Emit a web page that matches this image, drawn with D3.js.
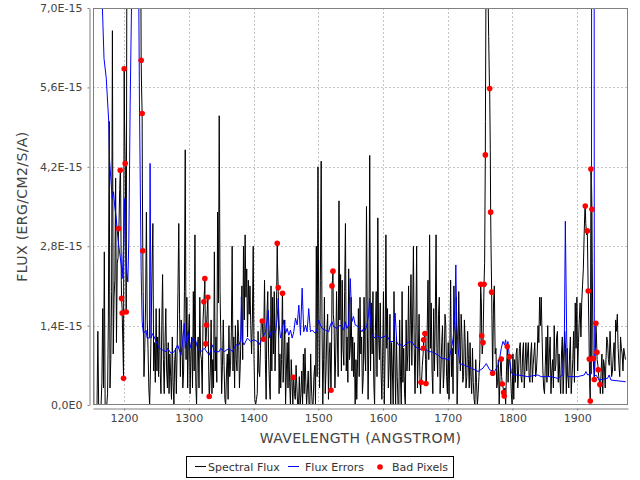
<!DOCTYPE html>
<html>
<head>
<meta charset="utf-8">
<script src="https://cdn.jsdelivr.net/npm/d3@7"></script>
<style>
  html, body { margin: 0; padding: 0; background: #fff; }
  svg { display: block; }
  text { font-family: "DejaVu Sans", sans-serif; }
</style>
</head>
<body>
<svg id="chart" width="640" height="480"></svg>
<script>
// ---------------- data (flux in units of 1E-15 erg/cm2/s/A) ----------------
const waveStart = 1152;   // first sample wavelength (Angstrom)
const waveStep = 2.5;     // sampling step (Angstrom)

// samples at waveStart + i*waveStep
const flux = [
  8.0, 0, 0, 1.3, 0, 0, 1.7, 2.7, 0, 0.2,
  5.0, 0.8, 6.6, 1.9, 4.0, 2.5, 3.1, 4.1, 1.7, 3.0,
  4.2, 9, 14, 20, 30, 40, 30, 20, 14, 10,
  5.6, 2.0, 1.0, 3.4, 1.0, 0, 1.5, 3.2, 1.1, 1.7,
  1.2, 1.7, 0.2, 2.3, 0.2, 1.7, 0.3, 0.2, 0.5, 1.2,
  0, 1.0, 1.0, 3.2, 0.5, 1.2,
  0.6, 4.5, 1.9, 1.2, 0.2, 1.2, 2.0, 3.0, 0.0, 1.2,
  1.9, 0.8, 1.5, 2.1, 1.2, 1.9, 0.2, 1.5, 0.8, 2.7,
  1.2, 3.4, 5.1, 1.2, 0.7, 0.7, 0.0, 0.9, 1.4, 0.7,
  2.8, 1.2, 1.4, 0.6, 1.2, 0.7, 2.1, 2.8, 3.0, 2.4,
  2.2, 2.1, 0.9, 2.8, 0.1, 0.1, 1.3, 0.5, 1.5, 1.2,
  2.2, 0.1, 2.0, 0.4, 2.1,
  1.9, 2.0, 1.3, 2.5, 0.2, 0.3, 1.9, 0.9, 0.0, 1.1,
  1.2, 0.0, 0.4, 0.5, 0.1, 0.3, 0.0, 0.0, 0.6, 0.9,
  1.0, 0.0, 0.6, 0.0, 0.3, 0.0, 0.7, 2.8, 4.2, 0.3,
  4.3, 0.0, 1.9, 0.6, 1.6, 0.9, 0.3, 2.2, 1.4, 0.9,
  1.2, 3.6, 2.3, 2.2, 0.7, 3.2, 1.2, 2.4, 1.0, 0.6,
  0.5, 0.0, 0.1, 1.7, 1.9,
  1.2, 0.5, 0.9, 3.5, 0.1, 4.4, 1.8, 2.0, 0.0, 2.0,
  3.3, 0.8, 0.6, 0.9, 0.0, 3.0, 1.7, 0.7, 0.0, 0.6,
  2.0, 0.0, 0.5, 0.0, 0.5, 2.0, 1.0, 0.0, 0.6, 2.1,
  1.4, 0.7, 2.8, 0.2, 2.8, 0.9, 0.5, 0.4, 0.9, 1.2,
  0.4, 2.2, 3.0, 1.8, 0.2, 0.6, 3.0, 0.5, 1.9, 0.6,
  1.4, 0.6, 1.4, 0.2, 0.1, 2.2,
  1.0, 2.1, 0.9, 0.0, 2.0, 0.6, 1.2, 0.5, 1.1, 0.5,
  0.8, 1.1, 0.2, 0.4, 0.0, 0.4, 0.2, 0.8, 1.8, 1.1,
  2.5, 8.5, 7.5, 5.6, 2.7, 0.6, 2.1, 1.0, 0.4, 0.0,
  0.8, 0.35, 0.18, 0.0, 1.0, 0.9, 0.6, 0.0, 0.1, 0.4,
  1.0, 0.6, 1.1, 0.4, 1.1, 0.7, 0.6, 1.1, 0.4, 1.1,
  0.7, 1.1, 0.6, 1.4, 1.9,
  1.9, 0.6, 0.2, 1.2, 1.4, 0.9, 0.2, 0.8, 1.4, 0.7,
  1.3, 0.9, 0.2, 1.2, 0.6, 1.0, 1.0, 0.3, 1.2, 0.5,
  1.3, 1.8, 1.9, 1.1, 1.8, 1.8, 2.4, 3.5, 3.0, 2.0,
  0.3, 4.0, 0.8, 0.6, 1.3, 0.7, 0.4, 0.6, 0.2, 0.7,
  0.8, 1.1, 0.7, 0.9, 0.6, 1.1, 1.5, 1.6, 0.7, 1.2,
  0.9, 1.0, 0.8
];

// samples half-way between the ones above (waveStart + waveStep/2 + i*waveStep)
const fluxMid = [
  0, 0, 0, 0, 0, 0.4, 0.3, 0, 0, 1.5,
  0.3, 2.0, 0.9, 2.2, 1.1, 2.6, 3.8, 2.2, 1.0, 5.0,
  1.7, 11, 17, 25, 35, 35, 25, 17, 12, 8,
  4.0, 0.5, 1.8, 1.5, 0.3, 0.6, 2.4, 0.6, 0.4, 0.6,
  0.5, 0.6, 1.4, 0.8, 1.1, 0.6, 1.1, 0.9, 0.1, 0.4,
  0.8, 0.2, 2.0, 1.6, 1.5, 0.3, 2.0, 0.8, 0.3, 1.6,
  0.9, 0.3, 0.6, 0.4, 1.0, 0.3, 0.9, 0.2, 1.8, 1.0,
  1.6, 0.6, 0.6, 0.2, 0.3, 0.6, 0.4, 1.8, 2.0, 0.2,
  1.5, 0.1, 0.6, 0.1, 0.5, 1.3, 0.6, 0.3, 0.8, 1.5,
  0.3, 1.3, 0.8, 1.5, 1.9, 1.2, 1.6, 1.4, 1.5, 0.8,
  0.0, 0.2, 0.6, 1.0, 1.5, 1.2, 0.8, 1.6, 0.9, 0.1,
  0.6, 0.9, 0.6, 2.0, 2.0, 0.9, 0.8, 0.4, 1.5, 0.6,
  0.3, 0.4, 0.8, 0.0, 0.2, 0.7, 0.0, 0.5, 0.2, 0.0,
  0.2, 0.4, 0.3, 0.0, 0.9, 0.0, 0.5, 0.0, 0.5, 1.6,
  2.2, 1.5, 0.8, 0.2, 1.3, 0.1, 1.1, 1.2, 1.6, 0.3,
  2.0, 0.5, 1.5, 0.6, 1.0, 2.0, 0.6, 0.4, 0.8, 1.9,
  1.2, 1.1, 0.8, 0.8, 0.5, 0.9, 0.2, 1.9, 0.6, 1.5,
  1.2, 0.6, 0.9, 0.4, 1.3, 0.5, 1.2, 1.8, 0.1, 2.0,
  0.9, 1.0, 0.3, 1.6, 1.1, 0.0, 0.9, 1.2, 0.0, 1.5,
  0.0, 0.4, 0.2, 1.5, 0.9, 0.6, 2.3, 1.5, 1.0, 1.3,
  0.3, 1.6, 0.2, 0.7, 1.2, 0.8, 1.3, 0.8, 1.0, 0.6,
  1.7, 1.5, 1.0, 1.6, 0.2, 1.1, 0.3, 1.6, 0.5, 1.1,
  0.9, 0.5, 0.2, 1.4, 1.9, 0.7, 1.2, 1.6, 0.4, 1.5,
  0.3, 1.3, 0.3, 0.5, 1.0, 0.1, 0.8, 0.0, 0.5, 2.0,
  0.9, 1.9, 5.0, 10, 6.5, 4.5, 1.6, 1.8, 0.9, 0.3,
  0.8, 0.5, 0.5, 0.3, 0.3, 0.6, 0.4, 0.8, 0.2, 0.9,
  0.8, 0.9, 0.3, 1.0, 0.5, 0.9, 0.3, 1.1, 0.9, 0.5,
  0.9, 0.4, 0.9, 0.5, 0.9, 1.1, 1.4, 1.2, 0.3, 0.7,
  0.4, 0.5, 1.2, 0.6, 0.3, 0.6, 1.2, 0.4, 0.5, 0.9,
  0.2, 1.3, 0.2, 0.5, 0.9, 0.2, 0.8, 0.4, 1.0, 0.6,
  1.5, 1.2, 2.1, 3.0, 3.2, 3.0, 1.2, 2.0, 2.5, 0.6,
  1.0, 0.8, 0.5, 0.2, 0.9, 0.8, 0.3, 1.2, 0.8, 1.3,
  0.5, 0.9, 0.6, 1.3, 1.0, 0.5, 1.0, 0.6, 0.9
];

const errWave = [
  1155, 1166.4, 1169, 1172.5, 1176.6, 1177.6, 1180.2, 1181.7, 1183.8, 1185.3,
  1187.9, 1190.5, 1193, 1195.6, 1197.1, 1199.2, 1200.7, 1201.7, 1203.3, 1205.8,
  1207.4, 1209.4, 1211.5, 1216, 1222.8, 1223.8, 1226.4, 1227.9, 1229.9, 1234,
  1235.6, 1239.2, 1240.2, 1241.7, 1244.3, 1249.4, 1254.6, 1259.7, 1264.8, 1267.4,
  1272.5, 1277.6, 1282.8, 1287.9, 1290.5, 1293, 1294.6, 1298.2, 1303.3, 1305.8,
  1311, 1313.5, 1318.7, 1323.8, 1331.5, 1336.6, 1339.2, 1346.9, 1349.4, 1354.6,
  1362.3, 1367.4, 1372.5, 1377.6, 1380.2, 1381.2, 1382.8, 1385.3, 1390.5, 1395.6,
  1400.7, 1405.8, 1408.4, 1413.5, 1418.7, 1422.8, 1424.8, 1427.4, 1434, 1436.6,
  1438.1, 1439.7, 1441.7, 1444.3, 1446.8, 1449.4, 1452, 1454.5, 1457.1, 1459.7,
  1462.2, 1464.8, 1467.4, 1470, 1472.5, 1475.1, 1477.6, 1480.2, 1482.7, 1485.3,
  1487.9, 1490.4, 1495.6, 1498.1, 1500.7, 1503.3, 1505.8, 1511, 1516.1, 1518.6,
  1521.2, 1523.8, 1528.9, 1534, 1539.2, 1541.7, 1544.3, 1546.8, 1549.4, 1552,
  1554.5, 1557.1, 1562.2, 1567.4, 1570, 1572.5, 1575.1, 1577.7, 1579.2, 1581.2,
  1582.8, 1587.9, 1590.5, 1595.6, 1600.7, 1605.9, 1611, 1616.1, 1618.7, 1621.2,
  1623.8, 1628.9, 1631.5, 1636.6, 1644.3, 1649.5, 1654.6, 1659.7, 1664.8, 1670,
  1675.1, 1680.2, 1685.4, 1690.5, 1695.6, 1700.7, 1703.3, 1705.8, 1708.4, 1711,
  1712.5, 1714, 1716, 1718.6, 1726.3, 1736.6, 1746.8, 1754.5, 1759.6, 1764.8,
  1772.5, 1777.6, 1780.2, 1782.7, 1785.3, 1787.9, 1789.4, 1791, 1793, 1795.5,
  1798.1, 1800.7, 1808.4, 1823.8, 1839.1, 1844.3, 1859.7, 1869.9, 1877.6, 1880.2,
  1881.7, 1883.8, 1885.3, 1900.7, 1911, 1913.5, 1916.1, 1922, 1924.3, 1926.5,
  1928.9, 1934, 1946.9, 1949.4, 1952, 1975
];
const errVal = [
  12, 7.05, 6.11, 5.76, 4.94, 4.32, 3.88, 3.64, 3.76, 3.53,
  3.29, 2.94, 2.7, 2.47, 2.23, 2.82, 3.64, 2.82, 2.47, 2.17,
  2.94, 5.29, 7.05, 40, 7.05, 5.29, 2.35, 1.47, 1.26, 1.32,
  1.18, 1.18, 4.26, 1.18, 1.26, 1.12, 1.0, 0.97, 0.94, 1.0,
  0.91, 0.94, 1.06, 0.88, 1.12, 1.44, 1.0, 1.29, 1.0, 1.18,
  1.12, 1.0, 0.94, 1.0, 0.88, 1.06, 0.94, 0.94, 1.0, 0.94,
  1.0, 0.94, 1.06, 1.06, 1.15, 1.91, 1.12, 1.06, 1.18, 1.12,
  1.15, 1.12, 1.06, 1.18, 1.29, 1.67, 1.18, 1.29, 1.29, 1.53,
  1.88, 1.41, 1.18, 1.29, 1.5, 1.26, 1.35, 1.23, 1.32, 1.18,
  1.29, 1.53, 1.41, 1.76, 1.23, 2.06, 1.29, 1.41, 1.29, 1.7,
  1.29, 1.32, 1.26, 1.35, 1.5, 1.41, 1.35, 1.32, 1.29, 1.41,
  1.47, 1.38, 1.35, 1.41, 1.32, 1.47, 1.35, 1.41, 2.23, 1.47,
  1.56, 1.41, 1.38, 1.29, 1.35, 1.32, 1.41, 1.59, 1.88, 1.41,
  1.23, 1.18, 1.23, 1.18, 1.2, 1.23, 1.12, 1.12, 1.62, 1.12,
  1.06, 1.06, 1.03, 1.09, 1.12, 1.03, 1.0, 0.97, 1.0, 0.94,
  0.94, 0.91, 0.88, 0.82, 0.82, 0.79, 0.88, 1.0, 1.18, 1.59,
  2.47, 1.41, 1.0, 0.73, 0.7, 0.65, 0.59, 0.65, 0.73, 0.62,
  0.59, 0.7, 0.82, 1.0, 1.12, 1.06, 1.15, 1.0, 1.12, 0.82,
  0.59, 0.53, 0.53, 0.5, 0.53, 0.5, 0.5, 0.47, 0.53, 1.18,
  3.24, 1.18, 0.5, 0.5, 0.53, 0.59, 0.53, 0.55, 60, 0.5,
  0.53, 0.44, 0.47, 0.53, 0.44, 0.41
];

const badWave = [
  1191.5, 1194.1, 1196.1, 1197.1, 1199.2, 1200.2, 1201.7, 1203.3, 1226.4, 1227.9,
  1228.9, 1323.3, 1324.8, 1326.4, 1327.4, 1329.4, 1331.5, 1413.5, 1415.6, 1436.6,
  1438.1, 1444.8, 1461.7, 1519.7, 1521.2, 1522.7, 1658.7, 1662.3, 1662.8, 1664.8,
  1666.4, 1750.9, 1752.5, 1754.5, 1756.1, 1758.1, 1764.8, 1766.3, 1767.9, 1769.4,
  1782.7, 1784.3, 1786.3, 1787.3, 1792, 1795.5, 1912.5, 1915.6, 1917.1, 1918.7,
  1920.2, 1921.2, 1922.8, 1924.8, 1926.4, 1928.9, 1930.5, 1932.5, 1935.1
];
const badFlux = [
  3.11, 4.14, 1.88, 1.62, 0.47, 5.93, 4.26, 1.64, 6.08, 5.14,
  2.72, 1.82, 2.23, 1.08, 1.41, 1.9, 0.15, 1.48, 1.16, 2.85,
  2.07, 1.97, 0.49, 0.26, 2.1, 2.36, 0.40, 1.0, 1.15, 1.26,
  0.38, 2.13, 1.22, 1.1, 2.13, 4.41, 5.58, 3.40, 1.99, 0.56,
  0.81, 0.37, 0.22, 0.16, 1.03, 0.85, 3.51, 3.07, 2.01, 0.81,
  0.07, 4.16, 3.45, 0.82, 0.45, 1.44, 0.93, 0.62, 0.36
];

const xTicks = [1200, 1300, 1400, 1500, 1600, 1700, 1800, 1900];
const yTicks = [0, 1.4, 2.8, 4.2, 5.6, 7.0];
const yTickLabels = ["0,0E0", "1,4E-15", "2,8E-15", "4,2E-15", "5,6E-15", "7,0E-15"];
const legendLabels = ["Spectral Flux", "Flux Errors", "Bad Pixels"];
const xTitle = "WAVELENGTH (ANGSTROM)";
const yTitle = "FLUX (ERG/CM2/S/A)";

// ---------------- layout ----------------
const plot = { left: 93, top: 8, right: 628, bottom: 405 };
const svg = d3.select("#chart");

const x = d3.scaleLinear().domain([1152, 1978.5]).range([plot.left, plot.right]);
const y = d3.scaleLinear().domain([0, 7]).range([plot.bottom, plot.top]);

svg.append("rect")
  .attr("x", plot.left).attr("y", plot.top)
  .attr("width", plot.right - plot.left).attr("height", plot.bottom - plot.top)
  .attr("fill", "#ffffff");

// gridlines
const grid = svg.append("g").attr("stroke", "#c4c4c4").attr("stroke-width", 1)
  .attr("stroke-dasharray", "2,2").attr("shape-rendering", "crispEdges");
grid.selectAll("line.gx").data(xTicks).join("line").attr("class", "gx")
  .attr("x1", d => Math.round(x(d)) + 0.5).attr("x2", d => Math.round(x(d)) + 0.5)
  .attr("y1", plot.top).attr("y2", plot.bottom);
grid.selectAll("line.gy").data(yTicks.slice(1, -1)).join("line").attr("class", "gy")
  .attr("y1", d => Math.round(y(d)) + 0.5).attr("y2", d => Math.round(y(d)) + 0.5)
  .attr("x1", plot.left).attr("x2", plot.right);

svg.append("clipPath").attr("id", "clip").append("rect")
  .attr("x", plot.left).attr("y", plot.top)
  .attr("width", plot.right - plot.left).attr("height", plot.bottom - plot.top);

// spectral flux line: regular samples, half-step samples and flagged pixels, in wavelength order
const fluxPts = flux.map((v, i) => [waveStart + i * waveStep, v])
  .concat(fluxMid.map((v, i) => [waveStart + waveStep / 2 + i * waveStep, v]))
  .concat(badWave.map((w, i) => [w, badFlux[i]]))
  .sort((a, b) => a[0] - b[0]);
const line = d3.line().x(d => x(d[0])).y(d => y(d[1]));

const g = svg.append("g").attr("clip-path", "url(#clip)");
g.append("path").datum(fluxPts)
  .attr("d", line).attr("fill", "none").attr("stroke", "#000000").attr("stroke-width", 1);

const errPts = errWave.map((w, i) => [w, errVal[i]]);
g.append("path").datum(errPts)
  .attr("d", line).attr("fill", "none").attr("stroke", "#0000ff").attr("stroke-width", 1);

g.selectAll("circle.bad").data(badWave).join("circle").attr("class", "bad")
  .attr("cx", d => x(d)).attr("cy", (d, i) => y(badFlux[i])).attr("r", 2.8)
  .attr("fill", "#ff0000");

// plot outline
svg.append("rect")
  .attr("x", plot.left + 0.5).attr("y", plot.top + 0.5)
  .attr("width", plot.right - plot.left - 1).attr("height", plot.bottom - plot.top - 1)
  .attr("fill", "none").attr("stroke", "#808080").attr("stroke-width", 1);

// axes
const yAxis = d3.axisLeft(y).tickValues(yTicks).tickSize(2).tickSizeOuter(0).tickPadding(5)
  .tickFormat((d, i) => yTickLabels[i]);
const ya = svg.append("g").attr("transform", "translate(89.5,0)").call(yAxis);
const xAxis = d3.axisBottom(x).tickValues(xTicks).tickSize(2).tickSizeOuter(0).tickPadding(4)
  .tickFormat(d => String(d));
const xa = svg.append("g").attr("transform", "translate(0,408.5)").call(xAxis);
[ya, xa].forEach(a => {
  a.select(".domain").attr("stroke", "#808080");
  a.selectAll(".tick line").attr("stroke", "#808080");
  a.selectAll(".tick text").attr("fill", "#444444")
    .style("font-family", "'DejaVu Sans', sans-serif").style("font-size", "11px");
});

// titles
svg.append("text").attr("x", 360.5).attr("y", 442.5).attr("text-anchor", "middle")
  .attr("fill", "#444444").style("font-size", "14px").style("letter-spacing", "0.4px")
  .text(xTitle);
svg.append("text").attr("transform", "translate(27,206.5) rotate(-90)").attr("text-anchor", "middle")
  .attr("fill", "#444444").style("font-size", "14px").style("letter-spacing", "0.4px")
  .text(yTitle);

// legend
const lg = svg.append("g");
lg.append("rect").attr("x", 186.5).attr("y", 456.5).attr("width", 267).attr("height", 21)
  .attr("fill", "#ffffff").attr("stroke", "#000000").attr("stroke-width", 1);
const legendItems = [
  { type: "line", color: "#000000", x0: 195, label: legendLabels[0], tx: 208 },
  { type: "line", color: "#0000ff", x0: 288, label: legendLabels[1], tx: 305 },
  { type: "dot",  color: "#ff0000", x0: 380, label: legendLabels[2], tx: 392 }
];
legendItems.forEach(it => {
  if (it.type === "line") {
    lg.append("line").attr("x1", it.x0).attr("x2", it.x0 + 11).attr("y1", 466.5).attr("y2", 466.5)
      .attr("stroke", it.color).attr("stroke-width", 1);
  } else {
    lg.append("circle").attr("cx", it.x0).attr("cy", 467).attr("r", 2.8).attr("fill", it.color);
  }
  lg.append("text").attr("x", it.tx).attr("y", 470.5).attr("fill", "#333333")
    .style("font-size", "11px").text(it.label);
});
</script>
</body>
</html>
